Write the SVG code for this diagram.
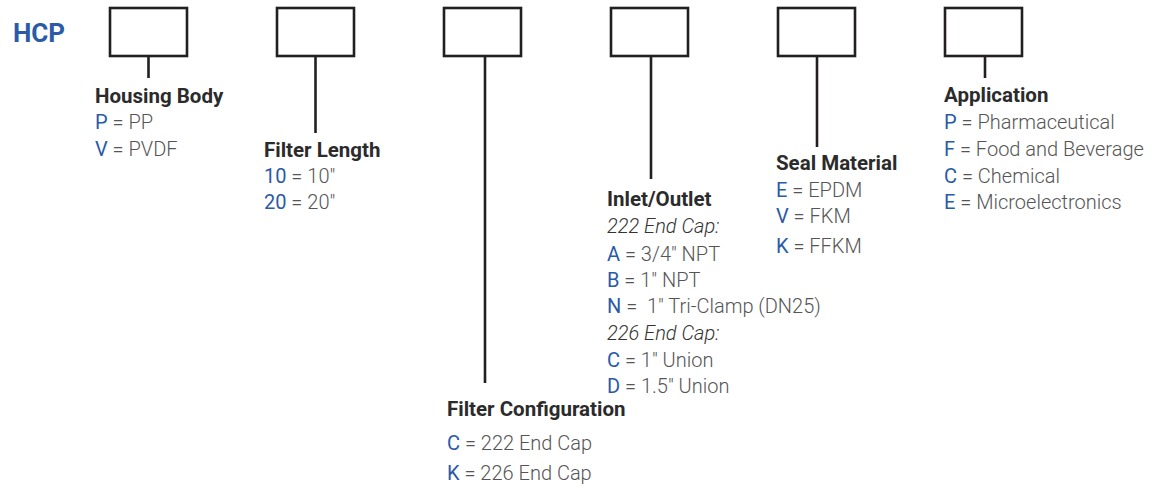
<svg xmlns="http://www.w3.org/2000/svg" width="1152" height="488" viewBox="0 0 1152 488">
<style>
.box{fill:#fff;stroke:#231f20;stroke-width:2.6}
.ln{stroke:#231f20;stroke-width:2.6;fill:none}
text{font-family:Roboto,"Liberation Sans",sans-serif}
.h{font-size:20.5px;font-weight:700;fill:#2b2b2b}
.v{font-size:20px;font-weight:300;fill:#555}
.i{font-size:20px;font-weight:300;font-style:italic;fill:#333}
.k{font-weight:400;fill:#2a5aa8}
.t{font-size:26px;font-weight:700;fill:#2a5aa8}
</style>
<rect width="1152" height="488" fill="#fff"/>
<text class="t" x="13" y="42">HCP</text>
<g id="connectors">
<line class="ln" x1="148.5" y1="56" x2="148.5" y2="78"/>
<line class="ln" x1="315.5" y1="56" x2="315.5" y2="133"/>
<line class="ln" x1="485" y1="56" x2="485" y2="383"/>
<line class="ln" x1="651" y1="56" x2="651" y2="179"/>
<line class="ln" x1="817" y1="56" x2="817" y2="147"/>
<line class="ln" x1="985" y1="56" x2="985" y2="78"/>
</g>
<g id="housing-body">
<rect class="box" x="110" y="8" width="77" height="48"/>
<text class="h" x="95" y="103">Housing Body</text>
<text class="v" x="95" y="129"><tspan class="k">P</tspan> = PP</text>
<text class="v" x="95" y="156"><tspan class="k">V</tspan> = PVDF</text>
</g>
<g id="filter-length">
<rect class="box" x="277" y="8" width="77" height="48"/>
<text class="h" x="264" y="157">Filter Length</text>
<text class="v" x="264" y="183"><tspan class="k">10</tspan> = 10"</text>
<text class="v" x="264" y="209"><tspan class="k">20</tspan> = 20"</text>
</g>
<g id="filter-configuration">
<rect class="box" x="444" y="8" width="77" height="48"/>
<text class="h" x="447" y="416">Filter Configuration</text>
<text class="v" x="447" y="450"><tspan class="k">C</tspan> = 222 End Cap</text>
<text class="v" x="447" y="480"><tspan class="k">K</tspan> = 226 End Cap</text>
</g>
<g id="inlet-outlet">
<rect class="box" x="611" y="8" width="77" height="48"/>
<text class="h" x="607" y="206">Inlet/Outlet</text>
<text class="i" x="607" y="233">222 End Cap:</text>
<text class="v" x="607" y="261"><tspan class="k">A</tspan> = 3/4" NPT</text>
<text class="v" x="607" y="287"><tspan class="k">B</tspan> = 1" NPT</text>
<text class="v" x="607" y="313"><tspan class="k">N</tspan> = &#160;1" Tri-Clamp (DN25)</text>
<text class="i" x="607" y="340">226 End Cap:</text>
<text class="v" x="607" y="367"><tspan class="k">C</tspan> = 1" Union</text>
<text class="v" x="607" y="393"><tspan class="k">D</tspan> = 1.5" Union</text>
</g>
<g id="seal-material">
<rect class="box" x="778" y="8" width="77" height="48"/>
<text class="h" x="776" y="170">Seal Material</text>
<text class="v" x="776" y="197"><tspan class="k">E</tspan> = EPDM</text>
<text class="v" x="776" y="223"><tspan class="k">V</tspan> = FKM</text>
<text class="v" x="776" y="253"><tspan class="k">K</tspan> = FFKM</text>
</g>
<g id="application">
<rect class="box" x="945" y="8" width="77" height="48"/>
<text class="h" x="944" y="102">Application</text>
<text class="v" x="944" y="129"><tspan class="k">P</tspan> = Pharmaceutical</text>
<text class="v" x="944" y="156"><tspan class="k">F</tspan> = Food and Beverage</text>
<text class="v" x="944" y="183"><tspan class="k">C</tspan> = Chemical</text>
<text class="v" x="944" y="209"><tspan class="k">E</tspan> = Microelectronics</text>
</g>
</svg>
